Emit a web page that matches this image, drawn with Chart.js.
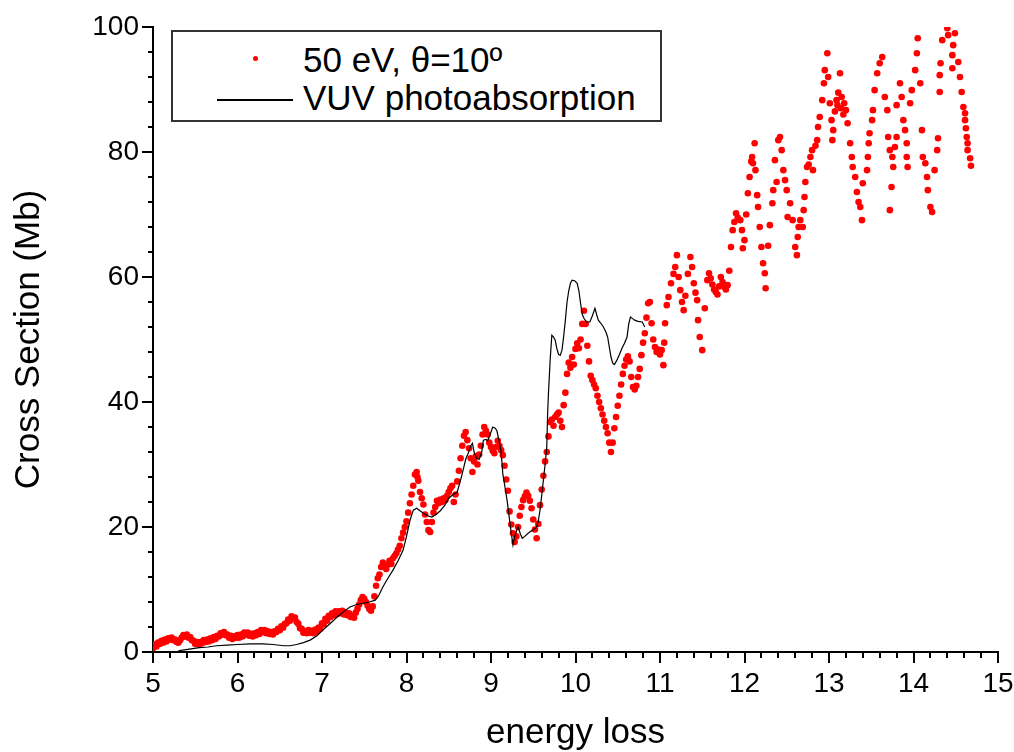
<!DOCTYPE html>
<html>
<head>
<meta charset="utf-8">
<script src="https://cdn.jsdelivr.net/npm/chart.js@4.4.0/dist/chart.umd.min.js"></script>
<style>
  body { margin: 0; background: #fff; }
  #wrap { position: relative; width: 1014px; height: 752px; }
  #legenda {
    position: absolute; left: 171px; top: 30px; width: 491px; height: 92px;
    box-sizing: border-box; border: 2px solid #333; background: #fff;
    font-family: "Liberation Sans", Arial, sans-serif; font-size: 35px; color: #000;
  }
  #legenda .txt { position: absolute; left: 130px; line-height: 38px; white-space: nowrap; }
  #legenda .ponto { position: absolute; left: 80px; top: 24px; width: 5px; height: 5px; border-radius: 50%; background: #ff0000; }
  #legenda .linha { position: absolute; left: 44px; top: 67px; width: 76px; height: 1.5px; background: #000; }
</style>
</head>
<body>
<div id="wrap">
  <canvas id="grafico" width="1014" height="752"></canvas>
  <div id="legenda">
    <span class="ponto"></span><span class="txt" style="top:9px">50 eV, θ=10º</span>
    <span class="linha"></span><span class="txt" style="top:47px">VUV photoabsorption</span>
  </div>
</div>
<script>
// eixos
const xTicks = [5, 6, 7, 8, 9, 10, 11, 12, 13, 14, 15];
const yTicks = [0, 20, 40, 60, 80, 100];
const xMinorStep = 0.2;
const yMinorStep = 4;

// espectro de perda de energia, 50 eV, 10 graus  [energia, secao de choque]
const redPoints = [
  [5.00,0.6],[5.02,1.2],[5.04,0.9],[5.06,1.5],[5.08,1.3],[5.10,1.8],[5.12,1.5],[5.14,2.0],[5.16,1.7],[5.18,2.2],
  [5.20,2.0],[5.22,2.3],[5.24,1.9],[5.26,2.0],[5.28,1.6],[5.30,1.5],[5.32,1.9],[5.34,2.3],[5.36,2.7],[5.38,2.5],
  [5.40,2.8],[5.42,2.3],[5.44,2.4],[5.46,1.9],[5.48,1.8],[5.50,1.3],[5.52,1.6],[5.54,1.2],[5.56,1.6],[5.58,1.4],
  [5.60,1.9],[5.62,1.6],[5.64,2.0],[5.66,1.7],[5.68,2.2],[5.70,1.9],[5.72,2.4],[5.74,2.1],[5.76,2.6],[5.78,2.5],
  [5.80,3.0],[5.82,2.8],[5.84,3.2],[5.86,2.7],[5.88,2.8],[5.90,2.3],[5.92,2.6],[5.94,2.1],[5.96,2.5],[5.98,2.3],
  [6.00,2.7],[6.02,2.3],[6.04,2.8],[6.06,2.5],[6.08,3.1],[6.10,2.8],[6.12,3.1],[6.14,2.6],[6.16,2.9],[6.18,2.5],
  [6.20,3.0],[6.22,2.7],[6.24,3.2],[6.26,2.9],[6.28,3.5],[6.30,3.2],[6.32,3.5],[6.34,3.0],[6.36,3.3],[6.38,2.9],
  [6.40,3.2],[6.42,2.8],[6.44,3.3],[6.46,3.2],[6.48,3.7],[6.50,3.5],[6.52,4.1],[6.54,3.9],[6.56,4.5],[6.58,4.6],
  [6.60,5.2],[6.62,5.0],[6.64,5.7],[6.66,5.4],[6.68,5.5],[6.70,4.8],[6.72,4.5],[6.74,3.8],[6.76,3.7],[6.78,3.1],
  [6.80,3.3],[6.82,3.0],[6.84,3.5],[6.86,3.1],[6.88,3.4],[6.90,3.0],[6.92,3.6],[6.94,3.3],[6.96,3.9],[6.98,3.7],
  [7.00,4.6],[7.02,4.4],[7.04,5.3],[7.06,5.0],[7.08,5.8],[7.10,5.6],[7.12,6.2],[7.14,5.9],[7.16,6.5],[7.18,6.1],
  [7.20,6.5],[7.22,6.2],[7.24,6.6],[7.26,6.0],[7.28,6.3],[7.30,5.9],[7.32,6.2],[7.34,5.6],[7.36,5.8],[7.38,5.5],
  [7.40,6.3],[7.42,6.9],[7.44,7.6],[7.46,8.3],[7.48,8.8],[7.50,8.5],[7.52,8.0],[7.54,7.4],[7.56,6.9],[7.58,6.6],
  [7.60,7.3],[7.62,8.9],[7.64,10.6],[7.66,11.8],[7.68,12.4],[7.70,13.6],[7.72,14.3],[7.74,13.9],[7.76,13.3],[7.78,14.0],
  [7.80,14.6],[7.82,14.1],[7.84,15.0],[7.86,15.4],[7.88,15.8],[7.90,16.4],[7.92,17.0],[7.94,18.2],[7.96,19.1],[7.98,20.0],
  [8.00,20.9],[8.02,22.3],[8.04,23.8],[8.06,25.2],[8.08,26.6],[8.10,28.4],[8.12,28.8],[8.13,28.0],[8.14,27.4],[8.16,25.6],
  [8.18,24.6],[8.20,23.6],[8.22,22.0],[8.24,20.8],[8.26,19.5],[8.28,19.2],[8.30,20.8],[8.32,22.3],[8.34,23.2],[8.36,24.2],
  [8.38,23.8],[8.40,24.4],[8.42,24.0],[8.44,24.6],[8.46,24.3],[8.48,25.0],[8.50,25.6],[8.52,26.2],[8.54,26.6],[8.56,24.0],
  [8.58,25.2],[8.60,27.3],[8.62,29.0],[8.64,31.0],[8.66,33.0],[8.68,34.6],[8.70,35.2],[8.72,33.9],[8.74,32.6],[8.76,31.0],
  [8.78,28.8],[8.80,30.5],[8.82,31.3],[8.84,30.0],[8.86,31.6],[8.88,33.0],[8.90,34.8],[8.92,36.0],[8.94,35.4],[8.96,34.8],
  [8.98,33.5],[9.00,32.8],[9.02,32.2],[9.04,31.8],[9.06,32.8],[9.08,33.8],[9.10,33.0],[9.12,32.3],[9.14,31.5],[9.16,29.8],
  [9.18,27.6],[9.20,25.8],[9.22,22.5],[9.24,20.4],[9.26,19.0],[9.28,17.6],[9.30,18.5],[9.32,20.0],[9.34,21.8],[9.36,23.2],
  [9.38,24.3],[9.40,24.9],[9.42,25.5],[9.44,25.0],[9.46,24.2],[9.48,23.0],[9.50,21.2],[9.52,19.6],[9.54,18.2],[9.56,20.5],
  [9.58,23.5],[9.60,26.0],[9.62,28.2],[9.64,30.5],[9.66,32.0],[9.68,34.5],[9.70,36.8],[9.72,37.2],[9.74,36.2],[9.76,37.6],
  [9.78,38.0],[9.80,38.3],[9.82,37.0],[9.84,36.0],[9.86,39.5],[9.88,41.5],[9.90,44.5],[9.92,46.3],[9.94,45.5],[9.96,47.2],
  [9.98,46.0],[10.00,48.5],[10.02,49.4],[10.04,48.6],[10.06,50.0],[10.08,52.5],[10.10,54.6],[10.12,52.5],[10.14,49.0],[10.16,46.5],
  [10.18,44.2],[10.20,43.5],[10.22,42.8],[10.24,42.2],[10.26,41.0],[10.28,40.0],[10.30,39.0],[10.32,38.0],[10.34,37.0],[10.36,36.0],
  [10.38,35.0],[10.40,33.5],[10.42,32.0],[10.44,33.5],[10.46,35.8],[10.48,37.6],[10.50,39.4],[10.52,41.0],[10.54,42.8],[10.56,44.5],
  [10.58,45.8],[10.60,46.8],[10.62,47.3],[10.64,46.5],[10.66,44.0],[10.68,42.4],[10.70,42.0],[10.72,42.6],[10.74,44.0],[10.76,45.3],
  [10.78,47.5],[10.80,49.5],[10.82,51.0],[10.84,53.5],[10.86,55.8],[10.88,56.0],[10.90,52.6],[10.92,50.0],[10.94,48.8],[10.96,48.0],
  [10.98,48.4],[11.00,47.6],[11.02,48.3],[11.04,45.9],[11.05,49.5],[11.06,52.6],[11.08,55.5],[11.10,56.8],[11.13,59.0],[11.16,60.5],
  [11.18,61.6],[11.20,63.5],[11.22,60.0],[11.24,57.9],[11.26,56.0],[11.28,54.7],[11.30,57.0],[11.33,60.5],[11.36,63.2],[11.38,61.6],
  [11.40,59.0],[11.42,57.5],[11.44,56.3],[11.45,53.1],[11.47,50.4],[11.50,48.3],[11.53,55.0],[11.56,59.5],[11.58,60.6],[11.60,59.8],
  [11.62,58.8],[11.64,58.0],[11.66,57.6],[11.68,57.2],[11.70,58.5],[11.72,60.0],[11.74,59.2],[11.76,58.4],[11.78,58.0],[11.80,58.7],
  [11.82,61.0],[11.84,64.8],[11.86,67.5],[11.88,68.8],[11.90,70.2],[11.92,69.5],[11.95,69.1],[11.97,67.5],[11.98,64.6],[12.00,65.9],
  [12.02,70.0],[12.04,73.4],[12.06,76.0],[12.08,78.5],[12.09,79.2],[12.10,78.2],[12.12,81.4],[12.13,77.1],[12.15,73.1],[12.16,71.2],
  [12.18,68.0],[12.20,64.8],[12.22,62.2],[12.24,60.6],[12.25,58.2],[12.28,65.0],[12.30,68.3],[12.33,71.8],[12.34,73.9],[12.36,78.7],
  [12.38,75.2],[12.40,81.9],[12.42,82.4],[12.44,80.3],[12.46,77.1],[12.48,75.5],[12.50,73.9],[12.51,69.6],[12.54,71.8],[12.57,69.1],
  [12.60,64.8],[12.62,63.5],[12.63,66.4],[12.64,68.0],[12.66,69.1],[12.69,68.0],[12.70,70.7],[12.71,72.8],[12.72,75.2],[12.74,77.6],
  [12.76,78.0],[12.78,79.2],[12.80,80.3],[12.81,77.1],[12.84,81.0],[12.86,81.9],[12.87,84.0],[12.89,85.6],[12.92,88.3],[12.94,91.0],
  [12.95,93.1],[12.98,95.8],[12.99,92.0],[13.01,87.8],[13.03,85.1],[13.04,81.9],[13.05,83.5],[13.07,86.5],[13.09,88.3],[13.10,87.5],
  [13.11,89.5],[13.13,92.6],[13.14,87.0],[13.15,88.8],[13.17,86.0],[13.18,87.8],[13.20,86.7],[13.22,84.6],[13.25,81.4],[13.27,79.2],
  [13.28,77.6],[13.31,76.0],[13.33,73.6],[13.35,72.0],[13.37,71.2],[13.39,69.1],[13.40,75.0],[13.45,77.1],[13.46,79.2],[13.47,81.4],
  [13.48,83.0],[13.51,85.1],[13.52,86.7],[13.54,89.9],[13.57,92.6],[13.60,94.2],[13.63,95.2],[13.66,88.8],[13.69,86.7],[13.70,82.4],
  [13.72,80.3],[13.72,70.7],[13.74,74.4],[13.75,79.2],[13.76,77.6],[13.78,80.8],[13.80,82.4],[13.80,87.5],[13.84,91.0],[13.86,88.8],
  [13.88,85.1],[13.90,83.5],[13.92,81.4],[13.92,79.2],[13.93,77.6],[13.96,87.8],[13.98,89.9],[14.02,93.1],[14.04,95.8],[14.05,98.2],
  [14.08,91.0],[14.10,83.5],[14.11,79.2],[14.14,78.2],[14.16,76.0],[14.17,73.9],[14.20,71.2],[14.22,70.4],[14.25,77.1],[14.28,80.3],
  [14.29,82.2],[14.31,89.6],[14.31,92.3],[14.32,94.2],[14.34,97.9],[14.40,99.8],[14.41,98.7],[14.46,95.5],[14.46,93.4],[14.47,97.1],
  [14.49,99.0],[14.53,94.4],[14.55,92.0],[14.57,89.6],[14.59,87.2],[14.61,86.2],[14.61,85.1],[14.62,83.8],[14.63,82.4],[14.64,81.4],
  [14.64,80.3],[14.67,79.0],[14.68,77.8]
];

// fotoabsorcao VUV  [energia, secao de choque]
const vuvPoints = [
  [5.30,0.2],[5.35,0.3],[5.45,0.5],[5.55,0.7],[5.65,0.8],[5.75,1.0],[5.88,1.1],[6.00,1.2],[6.15,1.3],[6.30,1.3],
  [6.42,1.2],[6.55,1.0],[6.62,1.0],[6.70,1.2],[6.78,1.5],[6.86,1.9],[6.94,2.6],[7.01,3.5],[7.10,4.6],[7.18,5.6],
  [7.26,6.5],[7.33,7.2],[7.41,7.6],[7.49,7.8],[7.56,8.0],[7.63,8.3],[7.67,9.0],[7.72,10.4],[7.78,11.8],[7.84,13.1],
  [7.90,14.6],[7.96,16.3],[8.00,18.5],[8.04,21.0],[8.08,22.7],[8.12,23.0],[8.16,22.6],[8.20,22.2],[8.25,21.8],[8.30,21.6],
  [8.35,22.0],[8.40,22.6],[8.45,23.4],[8.50,24.6],[8.55,25.2],[8.60,25.6],[8.64,27.5],[8.67,29.1],[8.70,30.8],[8.73,31.8],
  [8.76,33.0],[8.78,33.4],[8.80,32.0],[8.83,31.0],[8.86,30.8],[8.89,32.0],[8.91,33.9],[8.94,34.0],[8.96,33.8],[8.99,34.8],
  [9.02,36.0],[9.05,35.8],[9.07,35.4],[9.10,33.5],[9.12,32.0],[9.14,28.5],[9.17,26.0],[9.19,24.3],[9.22,21.1],[9.24,19.0],
  [9.26,17.1],[9.28,18.4],[9.30,19.3],[9.32,20.0],[9.35,18.8],[9.37,18.2],[9.40,18.5],[9.44,19.0],[9.47,19.3],[9.50,19.5],
  [9.54,20.0],[9.56,21.0],[9.58,22.7],[9.60,25.0],[9.62,27.5],[9.64,30.0],[9.66,32.8],[9.67,38.0],[9.68,41.4],[9.70,46.7],
  [9.72,50.7],[9.74,50.4],[9.76,49.9],[9.78,48.5],[9.80,47.6],[9.82,47.5],[9.84,48.3],[9.86,50.5],[9.88,53.1],[9.90,56.0],
  [9.92,57.8],[9.94,59.0],[9.96,59.5],[9.99,59.4],[10.02,59.0],[10.04,57.8],[10.06,55.8],[10.08,54.0],[10.10,53.4],[10.13,52.8],
  [10.17,52.8],[10.20,53.8],[10.23,55.0],[10.25,54.0],[10.27,53.1],[10.30,52.6],[10.33,52.0],[10.36,51.2],[10.38,50.4],[10.40,48.8],
  [10.42,47.2],[10.44,46.2],[10.46,46.0],[10.49,46.7],[10.52,47.6],[10.55,48.6],[10.58,49.4],[10.61,50.4],[10.63,52.5],[10.65,53.6],
  [10.68,53.3],[10.70,53.1],[10.74,52.9],[10.79,52.8],[10.82,52.0]
];

Chart.defaults.font.family = '"Liberation Sans", Arial, sans-serif';
Chart.defaults.color = '#000';

const fonteTicks = { size: 28 };
const fonteTitulo = { size: 35, lineHeight: 1 };

// marcas dos eixos (maiores nos rotulos, menores entre eles), para fora da area
const marcasEixos = {
  id: 'marcasEixos',
  afterDraw(chart) {
    const c = chart.ctx;
    const x = chart.scales.x, y = chart.scales.y;
    c.save();
    c.strokeStyle = '#000';
    c.lineWidth = 2;
    c.beginPath();
    const nx = Math.round((x.max - x.min) / xMinorStep);
    for (let i = 0; i <= nx; i++) {
      const v = x.min + i * xMinorStep;
      const px = Math.round(x.getPixelForValue(v));
      const len = xTicks.some(t => Math.abs(t - v) < 1e-6) ? 11 : 6;
      c.moveTo(px, x.top);
      c.lineTo(px, x.top + len);
    }
    const ny = Math.round((y.max - y.min) / yMinorStep);
    for (let i = 0; i <= ny; i++) {
      const v = y.min + i * yMinorStep;
      const py = Math.round(y.getPixelForValue(v));
      const len = yTicks.some(t => Math.abs(t - v) < 1e-6) ? 11 : 5;
      c.moveTo(y.right, py);
      c.lineTo(y.right - len, py);
    }
    c.stroke();
    c.restore();
  }
};

const ctx = document.getElementById('grafico').getContext('2d');
new Chart(ctx, {
  type: 'scatter',
  data: {
    datasets: [
      {
        label: 'VUV photoabsorption',
        data: vuvPoints.map(p => ({ x: p[0], y: p[1] })),
        showLine: true,
        borderColor: '#000',
        borderWidth: 1.2,
        pointRadius: 0,
        tension: 0,
        order: 0
      },
      {
        label: '50 eV, θ=10º',
        data: redPoints.map(p => ({ x: p[0], y: p[1] })),
        backgroundColor: '#ff0000',
        borderWidth: 0,
        pointRadius: 3.3,
        pointStyle: 'circle',
        order: 1
      }
    ]
  },
  plugins: [marcasEixos],
  options: {
    responsive: false,
    animation: false,
    devicePixelRatio: 1,
    layout: { padding: { top: 27, right: 16, bottom: 0, left: 0 } },
    plugins: { legend: { display: false }, tooltip: { enabled: false } },
    scales: {
      x: {
        type: 'linear', position: 'bottom', min: 5, max: 15,
        afterBuildTicks: s => { s.ticks = xTicks.map(v => ({ value: v })); },
        ticks: { autoSkip: false, maxRotation: 0, font: fonteTicks, padding: 5 },
        grid: { display: false, drawTicks: true, tickLength: 10 },
        border: { color: '#000', width: 2 },
        title: { display: true, text: 'energy loss', font: fonteTitulo, padding: { top: 0, bottom: 1 } },
        afterFit: s => { s.height = 100; s.paddingLeft = 0; s.paddingRight = 0; }
      },
      y: {
        type: 'linear', position: 'left', min: 0, max: 100,
        afterBuildTicks: s => { s.ticks = yTicks.map(v => ({ value: v })); },
        ticks: { autoSkip: false, font: fonteTicks, padding: 4 },
        grid: { display: false, drawTicks: true, tickLength: 10 },
        border: { color: '#000', width: 2 },
        title: { display: true, text: 'Cross Section (Mb)', font: fonteTitulo, padding: { top: 12, bottom: 0 } },
        afterFit: s => { s.width = 153; s.paddingTop = 0; s.paddingBottom = 0; }
      }
    }
  }
});
</script>
</body>
</html>
